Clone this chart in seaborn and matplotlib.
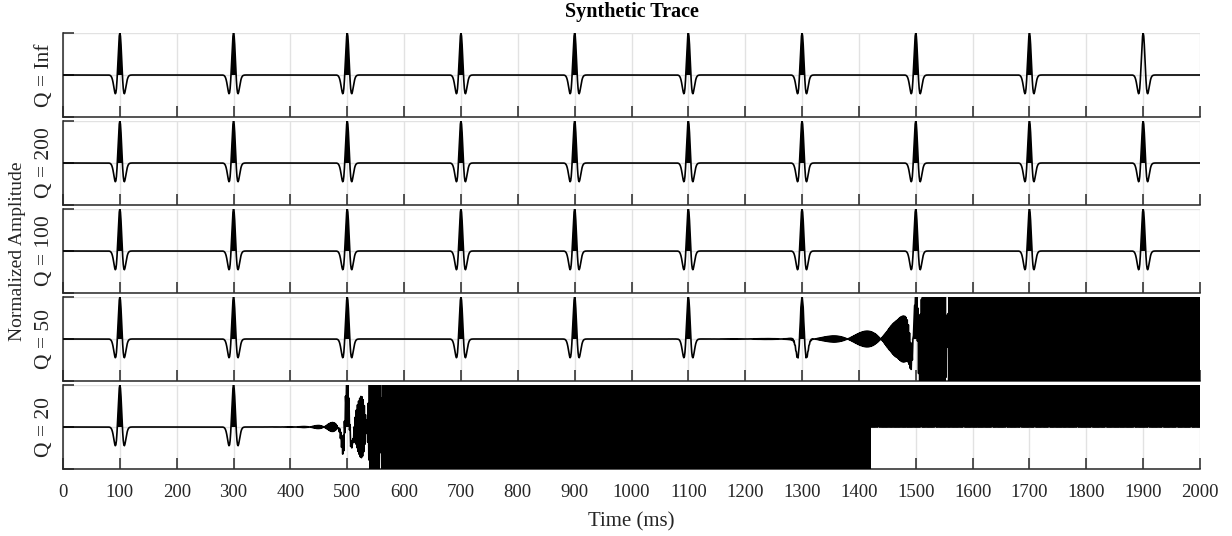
import numpy as np
import pandas as pd
import matplotlib
matplotlib.use("Agg")
import matplotlib.pyplot as plt
import seaborn as sns

# Panels, top to bottom
Q_LABELS = ["Inf", "200", "100", "50", "20"]

# Reflector times (ms) and Ricker wavelet dominant frequency (Hz)
SPIKE_TIMES = [100, 300, 500, 700, 900, 1100, 1300, 1500, 1700, 1900]
WAVELET_FREQ = 50.0
SAMPLE_MS = 1.0
TRACE_END_MS = 2000
X_TICKS = list(range(0, 2001, 100))

# Near-Nyquist ringing that blows up in the strongly compensated traces.
# Envelope: amplitude at the centre of successive beats (ms -> amplitude);
# beat nodes fall at RING_NODE_MS + k * RING_NODE_GAP.
RING_KNOT_MS = {
    3: [1351, 1409, 1468, 1526, 1585, 1643],
    4: [446, 471, 496, 521, 546, 571],
}
RING_KNOT_AMP = {
    3: [0.07, 0.18, 0.45, 3.5, 15.0, 60.0],
    4: [0.035, 0.10, 0.28, 0.65, 2.5, 10.0],
}
RING_NODE_MS = {3: 1380.0, 4: 509.0}
RING_NODE_GAP = {3: 58.5, 4: 25.0}
# After this time only the positive excursions of the trace survive
POSITIVE_ONLY_FROM_MS = {4: 1420.0}
# Reflectors whose positive lobe is left unfilled, per panel
UNFILLED = {0: [1900]}

INK = "#000000"
AXIS_INK = "#262626"
GRID = "#e2e2e2"


def ricker(tau_ms, f):
    a = (np.pi * f * tau_ms / 1000.0) ** 2
    return (1.0 - 2.0 * a) * np.exp(-a)


def envelope(t, knots_t, knots_a):
    """Piecewise exponential envelope through the beat amplitudes,
    continued with the end slopes outside the knots."""
    kt = np.asarray(knots_t, float)
    la = np.log(np.asarray(knots_a, float))
    out = np.interp(t, kt, la)
    s0 = (la[1] - la[0]) / (kt[1] - kt[0])
    s1 = (la[-1] - la[-2]) / (kt[-1] - kt[-2])
    out = np.where(t < kt[0], la[0] + s0 * (t - kt[0]), out)
    out = np.where(t > kt[-1], la[-1] + s1 * (t - kt[-1]), out)
    return np.exp(out)


def build_trace(i, t):
    y = np.zeros_like(t)
    for ts in SPIKE_TIMES:
        y += ricker(t - ts, WAVELET_FREQ)
    if i in RING_KNOT_MS:
        n = np.arange(t.size)
        env = envelope(t, RING_KNOT_MS[i], RING_KNOT_AMP[i])
        beat = np.sin(np.pi * (t - RING_NODE_MS[i]) / RING_NODE_GAP[i])
        y += env * beat * (-1.0) ** n
    return y


sns.set_theme(style="white")
plt.rcParams["font.family"] = ["Liberation Serif", "DejaVu Serif"]

W, H = 1232, 536
fig = plt.figure(figsize=(W / 100, H / 100), dpi=100)

t = np.arange(0, TRACE_END_MS + SAMPLE_MS / 2, SAMPLE_MS)
left_px, right_px = 63, 1200
panel_h = 84
tops = [33, 121, 209, 297, 385]

for i, (q, top) in enumerate(zip(Q_LABELS, tops)):
    ax = fig.add_axes([left_px / W, 1 - (top + panel_h) / H,
                       (right_px - left_px) / W, panel_h / H])
    y = build_trace(i, t)
    # keep off-scale excursions finite for the renderer
    y = np.clip(y, -5.0, 5.0)

    y_line = y.copy()
    if i in POSITIVE_ONLY_FROM_MS:
        late = t >= POSITIVE_ONLY_FROM_MS[i]
        y_line[late] = np.maximum(y_line[late], 0.0)

    df = pd.DataFrame({"Time (ms)": t, "Amplitude": y_line})

    mask = y > 0
    for ts in UNFILLED.get(i, []):
        mask &= np.abs(t - ts) > 20
    ax.fill_between(t, 0, y, where=mask, interpolate=True,
                    color=INK, lw=0, zorder=2)
    sns.lineplot(data=df, x="Time (ms)", y="Amplitude", ax=ax,
                 color=INK, lw=1.2, estimator=None, sort=False, zorder=3)

    ax.set_xlim(0, TRACE_END_MS)
    ax.set_ylim(-1, 1)
    ax.set_xticks(X_TICKS)
    ax.set_yticks([-1, 0, 1])
    ax.set_axisbelow(True)
    ax.grid(True, color=GRID, lw=1.0)
    for side in ("top", "right"):
        ax.spines[side].set_visible(False)
    for side in ("left", "bottom"):
        ax.spines[side].set_color(AXIS_INK)
        ax.spines[side].set_linewidth(1.1)
    ax.tick_params(axis="both", which="major", direction="in", length=8,
                   width=1.1, color=AXIS_INK, bottom=True, left=True,
                   top=False, right=False, labelleft=False, labelsize=13.5,
                   labelcolor=AXIS_INK, pad=11)
    ax.set_xlabel("")
    ax.set_ylabel("")
    if i < len(Q_LABELS) - 1:
        ax.tick_params(axis="x", labelbottom=False)

    fig.text(44 / W, 1 - (top + panel_h / 2) / H, f"Q = {q}",
             rotation=90, ha="center", va="center", fontsize=15.5,
             color=AXIS_INK)

fig.text((left_px + right_px) / 2 / W, 1 - 12 / H, "Synthetic Trace",
         ha="center", va="center", fontsize=14.5, fontweight="bold",
         color="black")
fig.text((left_px + right_px) / 2 / W, 1 - 522 / H, "Time (ms)",
         ha="center", va="center", fontsize=15, color=AXIS_INK)
fig.text(18 / W, 1 - 251 / H, "Normalized Amplitude", rotation=90,
         ha="center", va="center", fontsize=14, color=AXIS_INK)

fig.savefig("out.png", dpi=100)
